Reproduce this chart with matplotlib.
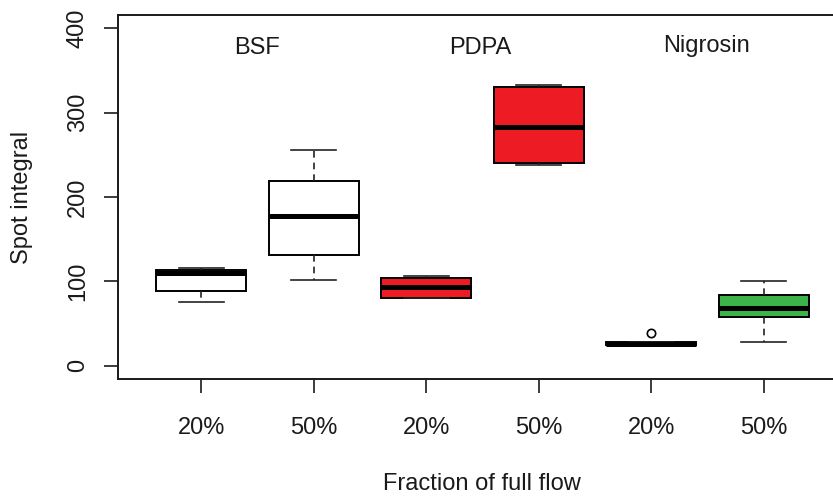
import numpy as np
import matplotlib
matplotlib.use("Agg")
import matplotlib.pyplot as plt

plt.rcParams['font.family'] = ['Liberation Sans', 'DejaVu Sans']

# Daten
groups = ["BSF", "BSF", "PDPA", "PDPA", "Nigrosin", "Nigrosin"]
tick_labels = ["20%", "50%", "20%", "50%", "20%", "50%"]
whislo = [75, 102, 80, 238, 24, 28]
q1 = [89, 131, 80, 240, 24, 58]
med = [110, 177, 93, 283, 26, 68]
q3 = [113, 219, 104, 330, 28.5, 84]
whishi = [116, 256, 106, 333, 28.5, 100]
fliers = [[], [], [], [], [39], []]
box_colors = ["white", "white", "#ED1C24", "#ED1C24", "#3CB44A", "#3CB44A"]

group_names = ["BSF", "PDPA", "Nigrosin"]
group_x = [1.5, 3.48, 5.49]
group_y = [377, 377, 379]

stats = []
for i in range(len(tick_labels)):
    stats.append(dict(whislo=whislo[i], q1=q1[i], med=med[i], q3=q3[i],
                      whishi=whishi[i], fliers=fliers[i], label=tick_labels[i]))

fig = plt.figure(figsize=(8.33, 4.97), dpi=100)
ax = fig.add_axes([118 / 833, 1 - 379 / 497, 729 / 833, 364 / 497])

bp = ax.bxp(stats, positions=np.arange(1, 7), widths=0.8, patch_artist=True,
            boxprops=dict(linewidth=1.4, edgecolor="black"),
            medianprops=dict(linewidth=3.6, color="black", solid_capstyle="butt"),
            whiskerprops=dict(linewidth=1.2, linestyle=(0, (4, 3)), color="#222222"),
            capprops=dict(linewidth=1.2, color="#222222"),
            capwidths=0.4,
            flierprops=dict(marker="o", markerfacecolor="none", markeredgecolor="black",
                            markersize=6, markeredgewidth=1.2))
for patch, c in zip(bp["boxes"], box_colors):
    patch.set_facecolor(c)

for name, x, y in zip(group_names, group_x, group_y):
    ax.text(x, y, name, ha="center", va="center", fontsize=17, color="#1a1a1a")

ax.set_xlim(0.26, 6.74)
ax.set_ylim(-16, 416)
ax.set_xticks(np.arange(1, 7))
ax.set_xticklabels(tick_labels)
ax.set_yticks([0, 100, 200, 300, 400])
ax.set_yticklabels(["0", "100", "200", "300", "400"], rotation=90, va="center")
ax.tick_params(axis="x", length=10, width=1.2, pad=17, labelsize=17, colors="#1a1a1a")
ax.tick_params(axis="y", length=10, width=1.2, pad=11, labelsize=17, colors="#1a1a1a")

for s in ["left", "bottom", "top", "right"]:
    ax.spines[s].set_linewidth(1.4)
    ax.spines[s].set_color("#1a1a1a")

fig.text(22 / 833, 1 - 197 / 497, "Spot integral", rotation=90, ha="center", va="center",
         fontsize=17, color="#1a1a1a")
fig.text(482 / 833, 1 - 484 / 497, "Fraction of full flow", ha="center", va="center",
         fontsize=17, color="#1a1a1a")

fig.savefig("out.png", dpi=100)
